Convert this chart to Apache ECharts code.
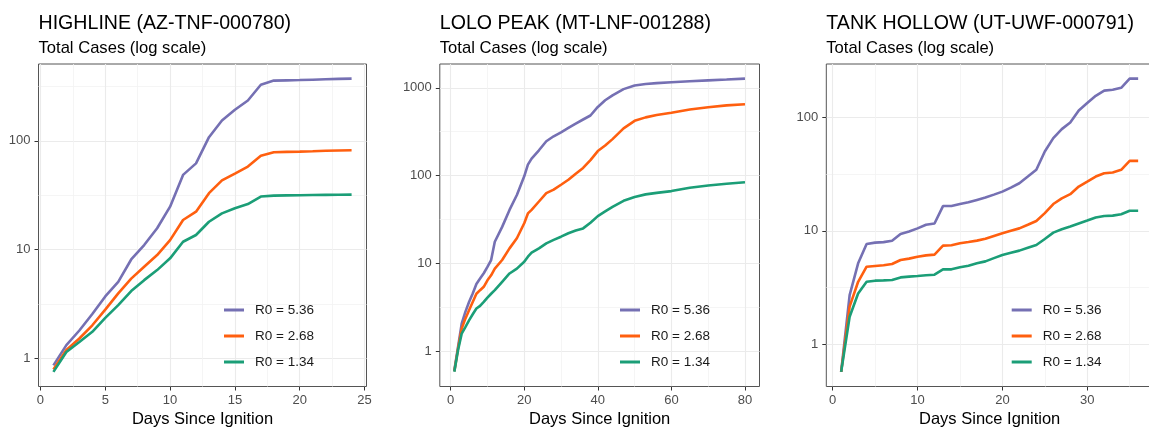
<!DOCTYPE html>
<html><head><meta charset="utf-8">
<script src="https://cdn.jsdelivr.net/npm/echarts@6/dist/echarts.min.js"></script>
<style>html,body{margin:0;padding:0;background:#fff}#c{width:1149px;height:428px}</style>
</head><body><div id="c"></div>
<script>
// ---------------- data ----------------
const chartTitles = ['HIGHLINE (AZ-TNF-000780)', 'LOLO PEAK (MT-LNF-001288)', 'TANK HOLLOW (UT-UWF-000791)'];
const subTitle = 'Total Cases (log scale)';
const xAxisName = 'Days Since Ignition';
const seriesNames = ['R0 = 5.36', 'R0 = 2.68', 'R0 = 1.34'];

const highlineDays = [1,2,3,4,5,6,7,8,9,10,11,12,13,14,15,16,17,18,19,20,21,22,23,24];
const highlineR536 = [0.86,1.32,1.8,2.55,3.7,5.05,8.1,11,15.7,24.8,48.6,62,108,154,193,235,328,358,360,362,365,368,371,373];
const highlineR268 = [0.79,1.19,1.52,2.01,2.8,3.95,5.4,6.95,8.9,12.2,18.7,22.3,33,43.2,50,58,72.8,78.5,79.2,79.6,80.2,81,81.5,82];
const highlineR134 = [0.75,1.14,1.41,1.75,2.35,3.08,4.15,5.23,6.47,8.3,11.8,13.6,18,21.5,24,26.2,30.7,31.3,31.5,31.6,31.7,31.8,31.9,32];

const loloDays = [1,2,3,4,5,6,7,8,9,10,11,12,14,16,18,20,21,22,24,26,28,30,32,34,36,38,40,42,44,47,50,53,56,60,65,70,75,80];
const loloR536 = [0.6,1.11,2.05,2.8,3.63,4.53,5.8,6.7,7.7,9.1,10.9,17.6,26,40.6,60,98,133,156,194,246,280,311,349,391,435,483,605,720,820,965,1060,1105,1130,1155,1185,1215,1240,1270];
const loloR268 = [0.59,1.06,1.8,2.34,2.92,3.63,4.5,4.94,5.4,6.4,7.3,8.7,10.9,14.8,19.3,28.6,37,40.7,50.6,63,69,78.5,89.6,105,122,150,190,220,260,345,420,460,490,520,565,600,630,650];
const loloR134 = [0.58,1.02,1.58,1.88,2.24,2.63,3.05,3.27,3.63,4.07,4.5,4.94,6.15,7.66,8.7,10.4,11.9,13.2,14.8,16.9,18.5,20.1,22,23.6,25,29,34.5,39,44,51.5,57,61,63.5,66.5,72.5,77,80.5,84];

const tankDays = [1,2,3,4,5,6,7,8,9,10,11,12,13,14,15,16,17,18,19,20,21,22,23,24,25,26,27,28,29,30,31,32,33,34,35,36];
const tankR536 = [0.574,2.72,5.17,7.66,7.87,7.95,8.18,9.37,9.84,10.5,11.3,11.6,16.5,16.5,17.2,17.8,18.7,19.6,20.8,22.1,24,26.2,30,34.4,49.8,65.3,78.4,89.7,114.5,133,154,171,174,181,218,218];
const tankR268 = [0.574,2.15,3.56,4.83,4.9,4.97,5.1,5.53,5.69,5.92,6.08,6.17,7.4,7.45,7.76,7.97,8.19,8.5,9.0,9.5,10.0,10.5,11.3,12.2,14.3,17.2,19.3,21,24.5,27.1,30,32.1,32.6,34.4,41.2,41.2];
const tankR134 = [0.574,1.75,2.81,3.56,3.64,3.66,3.69,3.89,3.95,4.0,4.06,4.11,4.58,4.58,4.77,4.93,5.17,5.38,5.75,6.12,6.4,6.69,7.1,7.5,8.47,9.63,10.3,10.9,11.6,12.3,13.1,13.5,13.6,14,15,15];

const xTicksHighline = [0,5,10,15,20,25];
const xTicksLolo = [0,20,40,60,80];
const xTicksTank = [0,10,20,30];
const yTicks = [1,10,100,1000];

// ---------------- layout / style ----------------
const FONT = 'Liberation Sans, Arial, sans-serif';
const colors = ['#7570B3', '#FF5F0F', '#1B9E77'];
const panels = [
  {title: chartTitles[0], days: highlineDays, vals: [highlineR536, highlineR268, highlineR134], xTicks: xTicksHighline, left: 38.5, width: 328, legendLeft: 224},
  {title: chartTitles[1], days: loloDays, vals: [loloR536, loloR268, loloR134], xTicks: xTicksLolo, left: 439.8, width: 319.7, legendLeft: 620},
  {title: chartTitles[2], days: tankDays, vals: [tankR536, tankR268, tankR134], xTicks: xTicksTank, left: 826.3, width: 326.7, legendLeft: 1011.7}
];
const TOP = 64, H = 322.5;
const yMinorTicks = [0.1,1,10,100,1000].map(v => v * Math.sqrt(10));

const option = {
  animation: false,
  backgroundColor: '#fff',
  title: [], grid: [], xAxis: [], yAxis: [], legend: [], series: []
};

panels.forEach((p, i) => {
  // ggplot-like 5% expansion
  const xmin = Math.min(...p.days), xmax = Math.max(...p.days);
  const xpad = (xmax - xmin) * 0.05;
  const all = p.vals.flat();
  const lo = Math.log10(Math.min(...all)), hi = Math.log10(Math.max(...all));
  const lpad = (hi - lo) * 0.05;
  const ymin = Math.pow(10, lo - lpad), ymax = Math.pow(10, hi + lpad);

  option.title.push({left: p.left, top: 13.5, padding: 0, text: p.title,
    textStyle: {fontSize: 19.6, fontWeight: 'normal', color: '#000', fontFamily: FONT}});
  option.title.push({left: p.left, top: 40, padding: 0, text: subTitle,
    textStyle: {fontSize: 16.6, fontWeight: 'normal', color: '#000', fontFamily: FONT}});

  option.grid.push({left: p.left, top: TOP, width: p.width, height: H, show: true,
    borderColor: '#555', borderWidth: 1, backgroundColor: 'transparent',
    containLabel: false, outerBoundsMode: 'none'});

  option.xAxis.push({
    type: 'value', gridIndex: i, min: xmin - xpad, max: xmax + xpad, splitNumber: 5,
    axisLine: {show: false, onZero: false},
    axisTick: {show: true, length: 4, lineStyle: {color: '#333', width: 1}, customValues: p.xTicks},
    axisLabel: {customValues: p.xTicks, margin: 7, fontSize: 13, color: '#4D4D4D', fontFamily: FONT},
    splitLine: {show: true, lineStyle: {color: '#EBEBEB', width: 1.1}},
    minorTick: {show: false, splitNumber: 2},
    minorSplitLine: {show: true, lineStyle: {color: '#F3F3F3', width: 0.8}},
    name: xAxisName, nameLocation: 'middle', nameGap: 23.5,
    nameTextStyle: {fontSize: 16.5, color: '#000', fontFamily: FONT}
  });

  option.yAxis[i] = {
    type: 'log', logBase: 10, gridIndex: i, min: ymin, max: ymax,
    axisLine: {show: false, onZero: false},
    axisTick: {show: true, length: 4, lineStyle: {color: '#333', width: 1}, customValues: yTicks},
    axisLabel: {customValues: yTicks, margin: 8, fontSize: 13, color: '#4D4D4D', fontFamily: FONT,
      formatter: v => String(Math.round(v))},
    splitLine: {show: true, lineStyle: {color: '#EBEBEB', width: 1.1}}
  };
  option.yAxis[i + 3] = {
    type: 'log', logBase: 10, gridIndex: i, min: ymin, max: ymax, position: 'left',
    axisLine: {show: false, onZero: false},
    axisTick: {show: false, customValues: yMinorTicks},
    axisLabel: {show: false},
    splitLine: {show: true, lineStyle: {color: '#F3F3F3', width: 0.8}}
  };

  option.legend.push({
    orient: 'vertical', left: p.legendLeft, top: 303, padding: 0,
    itemWidth: 20, itemHeight: 3, itemGap: 12, icon: 'rect', selectedMode: false,
    textStyle: {fontSize: 13.5, color: '#1A1A1A', fontFamily: FONT, padding: [0, 0, 0, 6]},
    data: seriesNames
  });

  p.vals.forEach((v, k) => {
    option.series.push({
      type: 'line', name: seriesNames[k], xAxisIndex: i, yAxisIndex: i,
      data: p.days.map((d, j) => [d, v[j]]),
      symbol: 'none', showSymbol: false, smooth: false,
      lineStyle: {color: colors[k], width: 2.6},
      itemStyle: {color: colors[k]},
      emphasis: {disabled: true}, silent: true
    });
  });
});

const chart = echarts.init(document.getElementById('c'), null, {renderer: 'canvas'});
chart.setOption(option);
</script></body></html>
